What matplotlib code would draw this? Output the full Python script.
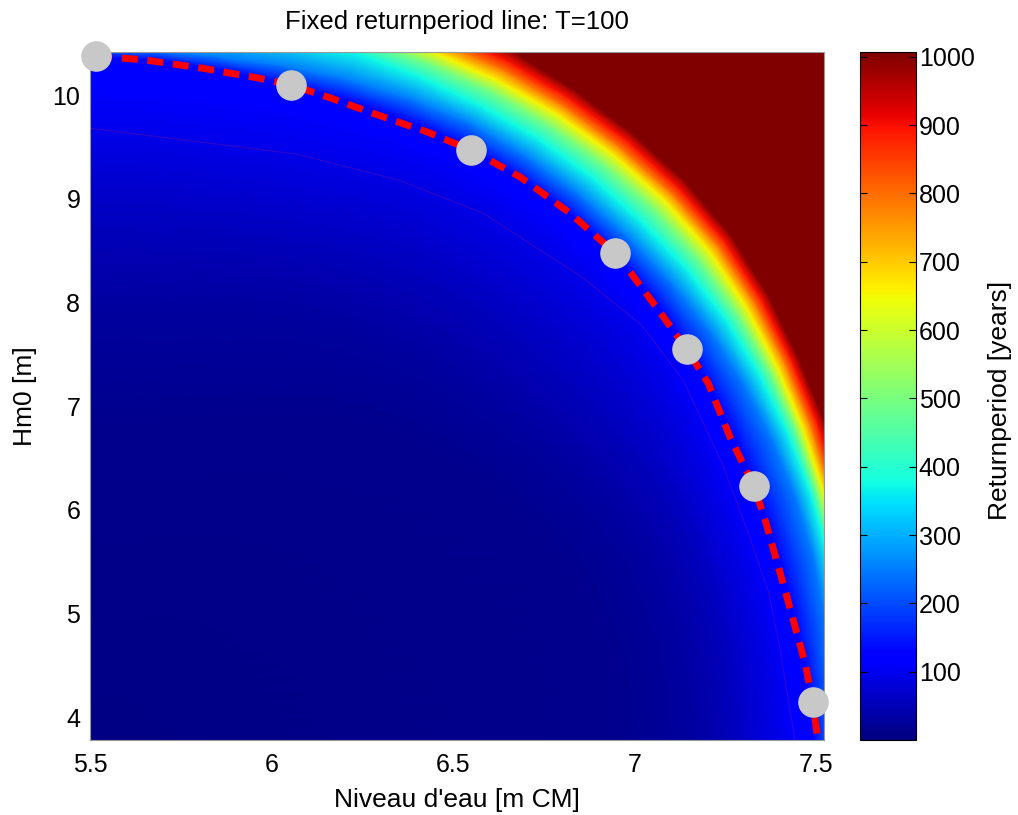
import numpy as np
import matplotlib
matplotlib.use("Agg")
import matplotlib.pyplot as plt

plt.rcParams['font.family'] = ['Liberation Sans', 'DejaVu Sans']

# axis window of the heat map
X_MIN, X_MAX = 5.5, 7.522
Y_MIN, Y_MAX = 3.78, 10.415

# return period field, read along rays from the lower-left corner.
# ray angle in axes-fraction space, radius in axes fractions
RAY_ANGLES_DEG = [0, 5, 10, 15, 20, 25, 30, 35, 40, 45, 50, 55, 60, 65, 70, 75, 80, 85, 90]
LEVELS = [5, 12, 30, 55, 78, 95, 112, 128, 250, 370, 500, 655, 790, 900, 1007, 1007]

R_5 = [0.0] * 19
R_12 = [0.72, 0.72, 0.72, 0.71, 0.70, 0.685, 0.67, 0.655, 0.64, 0.62, 0.60, 0.575, 0.55, 0.525, 0.50, 0.485, 0.47, 0.465, 0.46]
R_30 = [0.82, 0.815, 0.81, 0.805, 0.80, 0.785, 0.77, 0.755, 0.74, 0.73, 0.72, 0.71, 0.70, 0.685, 0.67, 0.655, 0.64, 0.635, 0.63]
R_55 = [0.875, 0.872, 0.87, 0.868, 0.865, 0.858, 0.85, 0.84, 0.83, 0.825, 0.82, 0.81, 0.80, 0.785, 0.77, 0.76, 0.75, 0.747, 0.745]
R_78 = [0.91, 0.907, 0.905, 0.902, 0.90, 0.902, 0.905, 0.905, 0.905, 0.90, 0.895, 0.89, 0.885, 0.868, 0.85, 0.842, 0.835, 0.834, 0.833]
R_95 = [0.945, 0.94, 0.935, 0.932, 0.93, 0.934, 0.94, 0.948, 0.955, 0.956, 0.955, 0.95, 0.945, 0.928, 0.91, 0.90, 0.89, 0.89, 0.89]
R_112 = [0.962, 0.957, 0.952, 0.951, 0.952, 0.956, 0.962, 0.969, 0.976, 0.98, 0.982, 0.98, 0.978, 0.97, 0.962, 0.955, 0.948, 0.946, 0.945]
R_128 = [0.986, 0.981, 0.976, 0.975, 0.976, 0.98, 0.986, 0.993, 1.0, 1.004, 1.006, 1.005, 1.003, 0.998, 0.993, 0.99, 0.99, 0.992, 0.994]
R_250 = [1.012, 1.015, 1.018, 1.021, 1.024, 1.027, 1.03, 1.033, 1.034, 1.035, 1.036, 1.036, 1.035, 1.029, 1.022, 1.015, 1.008, 1.006, 1.004]
R_370 = [1.03, 1.033, 1.036, 1.04, 1.045, 1.05, 1.055, 1.06, 1.063, 1.064, 1.066, 1.066, 1.064, 1.063, 1.062, 1.054, 1.045, 1.04, 1.035]
R_500 = [1.04, 1.043, 1.046, 1.05, 1.054, 1.062, 1.07, 1.078, 1.085, 1.089, 1.091, 1.091, 1.09, 1.087, 1.084, 1.077, 1.07, 1.065, 1.06]
R_655 = [1.05, 1.052, 1.055, 1.059, 1.063, 1.072, 1.082, 1.093, 1.103, 1.108, 1.11, 1.11, 1.108, 1.104, 1.10, 1.095, 1.09, 1.085, 1.08]
R_790 = [1.06, 1.062, 1.064, 1.068, 1.073, 1.083, 1.094, 1.106, 1.117, 1.122, 1.124, 1.125, 1.125, 1.121, 1.118, 1.114, 1.11, 1.105, 1.10]
R_900 = [1.07, 1.072, 1.074, 1.078, 1.083, 1.093, 1.104, 1.117, 1.129, 1.135, 1.138, 1.139, 1.14, 1.137, 1.135, 1.132, 1.13, 1.125, 1.12]
R_1007 = [1.08, 1.082, 1.084, 1.088, 1.093, 1.103, 1.114, 1.128, 1.141, 1.148, 1.151, 1.153, 1.155, 1.152, 1.15, 1.147, 1.145, 1.142, 1.14]
R_OUT = [1.6] * 19

# fixed T=100 line (dashed) and its sample points (markers)
LINE_X = [5.517, 5.652, 5.811, 5.968, 6.054, 6.156, 6.299, 6.428, 6.55, 6.685,
          6.822, 6.946, 6.988, 7.076, 7.144, 7.203, 7.263, 7.329, 7.36, 7.42,
          7.47, 7.491, 7.505]
LINE_Y = [10.376, 10.338, 10.258, 10.161, 10.097, 9.98, 9.80, 9.645, 9.469, 9.21,
          8.862, 8.478, 8.293, 7.878, 7.548, 7.222, 6.701, 6.229, 5.90, 5.158,
          4.52, 4.151, 3.78]
POINT_X = [5.517, 6.054, 6.55, 6.946, 7.144, 7.329, 7.491]
POINT_Y = [10.376, 10.097, 9.469, 8.478, 7.548, 6.229, 4.151]

# faint contour drawn under the dashed line
THIN_X = [5.5, 6.07, 6.35, 6.583, 6.857, 7.02, 7.134, 7.241, 7.318, 7.37, 7.40, 7.442]
THIN_Y = [9.68, 9.43, 9.18, 8.86, 8.24, 7.78, 7.25, 6.45, 5.73, 5.2, 4.67, 3.78]

CBAR_TICKS = [100, 200, 300, 400, 500, 600, 700, 800, 900, 1000]


def build_mesh():
    radii = np.array([R_5, R_12, R_30, R_55, R_78, R_95, R_112, R_128, R_250,
                      R_370, R_500, R_655, R_790, R_900, R_1007, R_OUT])
    theta = np.deg2rad(RAY_ANGLES_DEG)[None, :]
    X = X_MIN + (X_MAX - X_MIN) * radii * np.cos(theta)
    Y = Y_MIN + (Y_MAX - Y_MIN) * radii * np.sin(theta)
    C = np.repeat(np.array(LEVELS, dtype=float)[:, None], len(RAY_ANGLES_DEG), axis=1)
    return X, Y, C


def main():
    fig = plt.figure(figsize=(10.18, 8.15), dpi=100)
    ax = fig.add_axes([90 / 1018, 75 / 815, 734 / 1018, 688 / 815])

    X, Y, C = build_mesh()
    mesh = ax.pcolormesh(X, Y, C, shading='gouraud', cmap='jet', vmin=0, vmax=1007)

    ax.plot(THIN_X, THIN_Y, color=(0.75, 0.1, 0.45), lw=0.8, alpha=0.25)
    ax.plot(LINE_X, LINE_Y, color='#ff0000', lw=5, linestyle=(0, (2.3, 1.4)),
            solid_capstyle='butt', dash_capstyle='butt')
    ax.plot(POINT_X, POINT_Y, ls='none', marker='o', ms=21,
            mfc='#c8c8c8', mec='#c8c8c8', clip_on=False, zorder=5)

    ax.set_xlim(X_MIN, X_MAX)
    ax.set_ylim(Y_MIN, Y_MAX)
    ax.set_xticks([5.5, 6, 6.5, 7, 7.5])
    ax.set_xticklabels(['5.5', '6', '6.5', '7', '7.5'])
    ax.set_yticks([4, 5, 6, 7, 8, 9, 10])
    ax.tick_params(axis='both', length=0, labelsize=18)
    ax.tick_params(axis='x', pad=9)
    ax.tick_params(axis='y', pad=7)
    for sp in ax.spines.values():
        sp.set_color('#999999')
        sp.set_linewidth(0.8)

    cax = fig.add_axes([860 / 1018, 75 / 815, 56 / 1018, 688 / 815])
    cb = fig.colorbar(mesh, cax=cax, ticks=CBAR_TICKS)
    cb.ax.tick_params(direction='in', length=5, left=True, right=True,
                      labelsize=18, pad=2, width=0.8)
    cb.outline.set_linewidth(0.8)

    fig.text(457 / 1018, 1 - 22 / 815, 'Fixed returnperiod line: T=100',
             ha='center', va='center', fontsize=18.5)
    fig.text(457 / 1018, 1 - 800 / 815, "Niveau d'eau [m CM]",
             ha='center', va='center', fontsize=19)
    fig.text(25 / 1018, 1 - 396 / 815, 'Hm0 [m]', rotation=90,
             ha='center', va='center', fontsize=19)
    fig.text(1000 / 1018, 1 - 400 / 815, 'Returnperiod [years]', rotation=90,
             ha='center', va='center', fontsize=19)

    fig.savefig('out.png', dpi=100, facecolor='white')


if __name__ == "__main__":
    main()
